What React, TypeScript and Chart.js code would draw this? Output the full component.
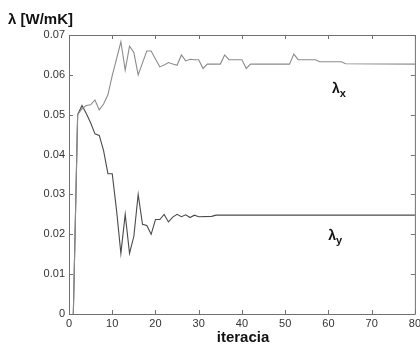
import React, { useEffect, useRef } from "react";
import { Chart, registerables } from "chart.js";

Chart.register(...registerables);

const iterX = [1, 2, 3, 4, 5, 6, 7, 8, 9, 10, 11, 12, 13, 14, 15, 16, 17, 18, 19, 20, 21, 22, 23, 24, 25, 26, 27, 28, 29, 30, 31, 32, 35, 36, 37, 40, 41, 42, 51, 52, 53, 57, 58, 63, 64, 80];
const lambdaX = [0, 0.05, 0.0515, 0.0523, 0.0525, 0.0537, 0.0512, 0.0527, 0.055, 0.0598, 0.064, 0.0683, 0.0612, 0.0672, 0.0656, 0.06, 0.063, 0.066, 0.066, 0.064, 0.062, 0.0625, 0.0631, 0.0627, 0.0624, 0.065, 0.0635, 0.0639, 0.0638, 0.0638, 0.0616, 0.0627, 0.0627, 0.065, 0.0638, 0.0638, 0.0616, 0.0627, 0.0627, 0.0652, 0.0638, 0.0638, 0.0633, 0.0633, 0.0628, 0.0627];

const iterY = [1, 2, 3, 4, 5, 6, 7, 8, 9, 10, 11, 12, 13, 14, 15, 16, 17, 18, 19, 20, 21, 22, 23, 24, 25, 26, 27, 28, 29, 30, 33, 34, 80];
const lambdaY = [0, 0.05, 0.0523, 0.0503, 0.048, 0.0452, 0.0448, 0.041, 0.0352, 0.0352, 0.026, 0.0152, 0.025, 0.0152, 0.0195, 0.03, 0.0225, 0.0222, 0.02, 0.0237, 0.0237, 0.025, 0.0231, 0.0243, 0.025, 0.0244, 0.0249, 0.0242, 0.0248, 0.0244, 0.0245, 0.0248, 0.0248];

const xTicks = [0, 10, 20, 30, 40, 50, 60, 70, 80];
const yTicks = [0, 0.01, 0.02, 0.03, 0.04, 0.05, 0.06, 0.07];
const yTickLabels = ["0", "0.01", "0.02", "0.03", "0.04", "0.05", "0.06", "0.07"];

const yTitle = "λ [W/mK]";
const xTitle = "iteracia";
const seriesLabels = [
  { base: "λ", sub: "x", x: 62.7, y: 0.0567 },
  { base: "λ", sub: "y", x: 61.8, y: 0.0197 },
];

const FONT = "'Liberation Sans', Arial, Helvetica, sans-serif";

export default function App() {
  const ref = useRef<HTMLCanvasElement | null>(null);

  useEffect(() => {
    const canvas = ref.current;
    if (!canvas) return;

    const decor = {
      id: "decor",
      afterDraw(chart: any) {
        const ctx = chart.ctx;
        const a = chart.chartArea;
        const xs = chart.scales.x;
        const ys = chart.scales.y;
        ctx.save();
        ctx.strokeStyle = "#707070";
        ctx.lineWidth = 1;
        ctx.beginPath();
        ctx.moveTo(a.left + 0.5, a.top + 0.5);
        ctx.lineTo(a.right + 0.5, a.top + 0.5);
        ctx.lineTo(a.right + 0.5, a.bottom + 0.5);
        ctx.lineTo(a.left + 0.5, a.bottom + 0.5);
        ctx.closePath();
        ctx.stroke();
        const L = 4;
        ctx.beginPath();
        xTicks.forEach((t) => {
          const px = Math.round(xs.getPixelForValue(t)) + 0.5;
          ctx.moveTo(px, a.bottom);
          ctx.lineTo(px, a.bottom - L);
          ctx.moveTo(px, a.top);
          ctx.lineTo(px, a.top + L);
        });
        yTicks.forEach((t) => {
          const py = Math.round(ys.getPixelForValue(t)) + 0.5;
          ctx.moveTo(a.left, py);
          ctx.lineTo(a.left + L, py);
          ctx.moveTo(a.right, py);
          ctx.lineTo(a.right - L, py);
        });
        ctx.stroke();

        ctx.fillStyle = "#111";
        ctx.font = `bold 15px ${FONT}`;
        ctx.textBaseline = "alphabetic";
        ctx.textAlign = "left";
        ctx.fillText(yTitle, 8, 24);
        ctx.textAlign = "center";
        ctx.fillText(xTitle, 243, 342);

        seriesLabels.forEach((s) => {
          const px = xs.getPixelForValue(s.x);
          const py = ys.getPixelForValue(s.y);
          ctx.textAlign = "left";
          ctx.font = `bold 14px ${FONT}`;
          ctx.fillText(s.base, px - 8, py + 5);
          const w = ctx.measureText(s.base).width;
          ctx.font = `bold 11px ${FONT}`;
          ctx.fillText(s.sub, px - 8 + w, py + 9);
        });
        ctx.restore();
      },
    };

    const chart = new Chart(canvas, {
      type: "line",
      data: {
        datasets: [
          {
            label: "λx",
            data: iterX.map((x, i) => ({ x, y: lambdaX[i] })),
            borderColor: "#8c8c8c",
            borderWidth: 1.1,
            pointRadius: 0,
            tension: 0,
          },
          {
            label: "λy",
            data: iterY.map((x, i) => ({ x, y: lambdaY[i] })),
            borderColor: "#4a4a4a",
            borderWidth: 1.1,
            pointRadius: 0,
            tension: 0,
          },
        ],
      },
      plugins: [decor],
      options: {
        responsive: false,
        animation: false,
        events: [],
        layout: { padding: { top: 35, right: 3, left: 0, bottom: 0 } },
        plugins: {
          legend: { display: false },
          tooltip: { enabled: false },
          title: { display: false },
        },
        scales: {
          x: {
            type: "linear",
            min: 0,
            max: 80,
            afterFit: (s: any) => {
              s.height = 30;
            },
            afterBuildTicks: (s: any) => {
              s.ticks = xTicks.map((v) => ({ value: v }));
            },
            grid: { display: false, drawTicks: false },
            border: { display: false },
            ticks: {
              padding: 3,
              color: "#333",
              font: { family: FONT, size: 11 },
              maxRotation: 0,
              autoSkip: false,
              callback: (v: any) => String(v),
            },
          },
          y: {
            type: "linear",
            min: 0,
            max: 0.07,
            afterFit: (s: any) => {
              s.width = 69;
            },
            afterBuildTicks: (s: any) => {
              s.ticks = yTicks.map((v) => ({ value: v }));
            },
            grid: { display: false, drawTicks: false },
            border: { display: false },
            ticks: {
              padding: 4,
              color: "#333",
              font: { family: FONT, size: 11 },
              autoSkip: false,
              callback: (v: any) => {
                const idx = yTicks.findIndex((t) => Math.abs(t - v) < 1e-9);
                return idx >= 0 ? yTickLabels[idx] : "";
              },
            },
          },
        },
      },
    });
    return () => chart.destroy();
  }, []);

  return (
    <div
      style={{
        position: "fixed",
        left: 0,
        top: 0,
        width: 420,
        height: 344,
        overflow: "hidden",
        background: "#fff",
      }}
    >
      <canvas ref={ref} width={424} height={344} style={{ display: "block" }} />
    </div>
  );
}
